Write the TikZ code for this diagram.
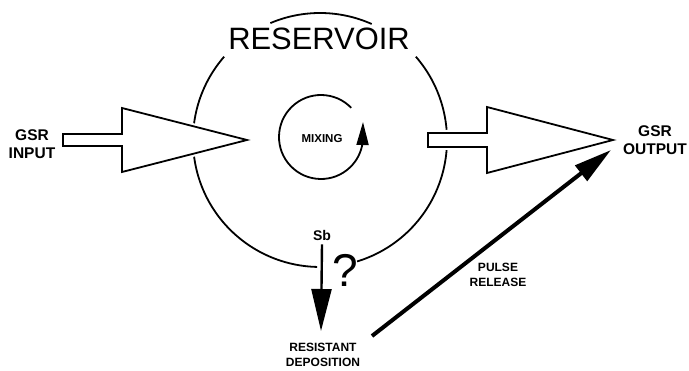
\documentclass[tikz,border=0pt]{standalone}
\usepackage{fontspec}
\setmainfont{Liberation Sans}
\usetikzlibrary{arrows.meta}
\begin{document}
\begin{tikzpicture}[x=1pt,y=-1pt,
  lbl/.style={font=\bfseries\fontsize{12}{15.5}\selectfont,align=center,inner sep=0pt},
  biglbl/.style={font=\bfseries\fontsize{15.5}{18.5}\selectfont,align=center,inner sep=0pt},
  ring/.style={line width=1.8pt,black},
  blockarrow/.style={fill=white,draw=black,line width=1.8pt,line join=miter,
     preaction={draw=white,line width=6pt}},
]
\useasboundingbox (0,0) rectangle (689,371);
% reservoir ring (y axis points down, so angles are mirrored)
\coordinate (c) at (320,140);
\draw[ring] (c) ++(-113:127) arc[start angle=-113,end angle=-66,radius=127];
\draw[ring] (c) ++(-139:127) arc[start angle=-139,end angle=-268.7,radius=127];
\draw[ring] (c) ++(73:127) arc[start angle=73,end angle=-41,radius=127];
\node[inner sep=0pt,font=\fontsize{30.9}{32}\selectfont] (res) at (319,39) {RESERVOIR};
% input block arrow
\draw[blockarrow] (63,134) -- (122,134) -- (122,108) -- (247,140) -- (122,172) -- (122,146) -- (63,146) -- cycle;
\node[biglbl] (gin) at (32,144) {GSR\\INPUT};
% output block arrow
\draw[blockarrow] (428,133) -- (487,133) -- (487,107) -- (613,140) -- (487,173) -- (487,147) -- (428,147) -- cycle;
\node[biglbl] (gout) at (655,140) {GSR\\OUTPUT};
% mixing
\node[font=\bfseries\fontsize{11.5}{12}\selectfont,inner sep=0pt] (mix) at (322,139) {MIXING};
\coordinate (mc) at (321,137);
\coordinate (mixtip) at (363,122);
\draw[line width=1.8pt,-{Triangle[length=23pt,width=12pt]}] (mc) ++(-44:42) arc[start angle=-44,end angle=-352,radius=42] -- (mixtip);
% Sb deposition
\node[font=\bfseries\fontsize{14}{16}\selectfont,inner sep=0pt] (sb) at (322,235) {Sb};
\node[font=\fontsize{46}{48}\selectfont,inner sep=0pt] (q) at (345,270) {?};
\node[lbl] (dep) at (323,355) {RESISTANT\\DEPOSITION};
\coordinate (sbtip) at (321,331);
\draw[line width=2.4pt,-{Triangle[length=42pt,width=20pt]}] (sb.south) ++(0,4) -- (sbtip);
% pulse release
\coordinate (pulseS) at (372,336);
\coordinate (pulseE) at (611,150);
\draw[line width=4pt,-{Triangle[length=38pt,width=19pt]}] (pulseS) -- (pulseE);
\node[lbl] (pulse) at (498,275) {PULSE\\RELEASE};
\end{tikzpicture}
\end{document}
